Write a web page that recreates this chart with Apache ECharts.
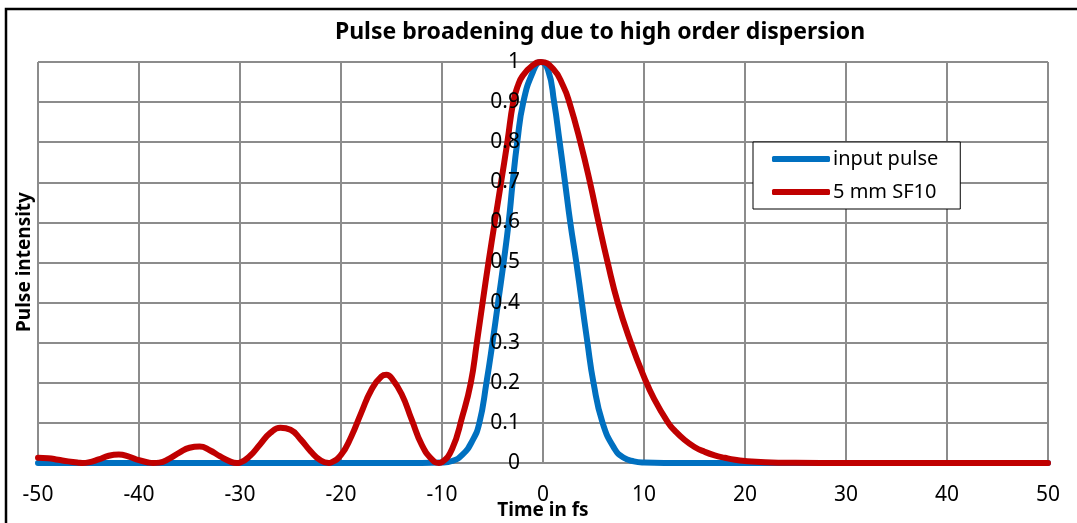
<!DOCTYPE html>
<html>
<head>
<meta charset="utf-8">
<script src="https://cdn.jsdelivr.net/npm/echarts@6/dist/echarts.min.js"></script>
<style>
  html, body { margin: 0; padding: 0; background: #fff; }
  #chart { width: 1077px; height: 523px; }
</style>
</head>
<body>
<div id="chart"></div>
<script>
// ---- data ----
const chartTitle = 'Pulse broadening due to high order dispersion';
const xAxisTitle = 'Time in fs';
const yAxisTitle = 'Pulse intensity';
const seriesNames = ['input pulse', '5 mm SF10'];

// input pulse: time (fs) and intensity
const inputTime = [-50, -12, -10, -9, -8, -7, -6.3, -5.6, -5, -4.45, -3.9, -3.4, -3, -2.55, -1.95, -1, -0.25,
  0.5, 1.1, 1.65, 2.18, 2.7, 3.3, 3.85, 4.4, 5, 5.9, 7.1, 8, 9, 10, 12, 50];
const inputPulse = [0, 0, 0.001, 0.005, 0.02, 0.055, 0.1, 0.2, 0.3, 0.4, 0.5, 0.6, 0.7, 0.8, 0.9, 0.975, 1,
  0.98, 0.9, 0.8, 0.7, 0.6, 0.5, 0.4, 0.3, 0.2, 0.1, 0.035, 0.013, 0.004, 0.001, 0, 0];

// after 5 mm SF10: time (fs) and intensity
const sf10Time = [-50, -49, -48, -47, -46, -45.6, -45, -44, -43, -42, -41, -40, -39, -38.6,
  -38, -37, -36, -35, -34, -33, -32, -31, -30.3,
  -30, -29, -28, -27, -26, -25, -24, -23, -22, -21.2,
  -21, -20, -19, -18, -17, -16, -15.5, -15, -14, -13, -12, -11, -10.3,
  -10, -9, -8, -7.15, -6.55, -5.98, -5.4, -4.78, -4.15, -3.53, -2.95, -2.5, -2, -1, -0.2,
  1, 2, 2.6, 3.7, 4.65, 5.5, 6.4, 7.4, 8.7, 10, 11, 12.4, 13, 14, 15, 16, 17, 18, 19, 20, 22, 25, 30, 50];
const sf10Pulse = [0.013, 0.012, 0.008, 0.004, 0.0008, 0, 0.0015, 0.009, 0.018, 0.021, 0.016, 0.007, 0.001, 0,
  0.001, 0.011, 0.026, 0.038, 0.041, 0.032, 0.017, 0.004, 0,
  0.001, 0.018, 0.047, 0.075, 0.088, 0.083, 0.059, 0.029, 0.006, 0,
  0.001, 0.02, 0.065, 0.125, 0.182, 0.216, 0.22, 0.212, 0.172, 0.108, 0.045, 0.009, 0,
  0.002, 0.035, 0.115, 0.2, 0.3, 0.4, 0.5, 0.6, 0.7, 0.8, 0.9, 0.94, 0.966, 0.992, 1,
  0.983, 0.94, 0.9, 0.8, 0.7, 0.6, 0.5, 0.4, 0.3, 0.215, 0.16, 0.1, 0.082, 0.058, 0.04, 0.028, 0.019, 0.013, 0.008, 0.005, 0.002, 0.0005, 0, 0];

// axis ticks
const xMin = -50, xMax = 50, xStep = 10;
const yMin = 0, yMax = 1, yStep = 0.1;

// ---- chart ----
const pairs = (xs, ys) => xs.map((x, i) => [x, ys[i]]);
const FONT = '"Noto Sans", "DejaVu Sans", sans-serif';
const GRID_COLOR = '#8c8c8c';
const GRID_LEFT = 38, GRID_RIGHT = 29, CHART_W = 1077;
// y-axis labels sit on the x = 0 line (axis crossing), as in the reference
const plotW = CHART_W - GRID_LEFT - GRID_RIGHT;
const yAxisShift = plotW * (0 - xMin) / (xMax - xMin);

const chart = echarts.init(document.getElementById('chart'), null, { renderer: 'canvas' });
chart.setOption({
  animation: false,
  backgroundColor: '#ffffff',
  title: {
    text: chartTitle,
    left: 600,
    top: 21,
    textAlign: 'center',
    padding: 0,
    textStyle: { fontFamily: FONT, fontWeight: 'bold', fontSize: 23, color: '#000' }
  },
  legend: {
    orient: 'vertical',
    left: 753,
    top: 142,
    width: 208,
    padding: [7, 22, 7, 19],
    itemGap: 13,
    itemWidth: 58,
    itemHeight: 6,
    icon: 'roundRect',
    borderColor: '#000',
    borderWidth: 1,
    backgroundColor: '#fff',
    textStyle: { fontFamily: FONT, fontSize: 20, color: '#000', padding: [0, 0, 0, -2] },
    data: seriesNames
  },
  grid: { left: GRID_LEFT, right: GRID_RIGHT, top: 62, bottom: 60, containLabel: false, outerBoundsMode: 'none' },
  xAxis: {
    type: 'value',
    min: xMin, max: xMax, interval: xStep,
    name: xAxisTitle,
    nameLocation: 'middle',
    nameGap: 38,
    nameMoveOverlap: false,
    nameTextStyle: { fontFamily: FONT, fontWeight: 'bold', fontSize: 19, color: '#000' },
    axisLine: { show: false, onZero: false },
    axisTick: { show: false },
    axisLabel: { margin: 22, fontFamily: FONT, fontSize: 21, color: '#000' },
    splitLine: { show: true, lineStyle: { color: GRID_COLOR, width: 2 } }
  },
  yAxis: [
    {
      type: 'value',
      min: yMin, max: yMax, interval: yStep,
      axisLine: { show: false, onZero: false },
      axisTick: { show: false },
      axisLabel: { show: false },
      splitLine: { show: true, lineStyle: { color: GRID_COLOR, width: 2 } },
      z: 0
    },
    {
      type: 'value',
      position: 'left',
      offset: -yAxisShift,
      min: yMin, max: yMax, interval: yStep,
      axisLine: { show: false, onZero: false },
      axisTick: { show: false },
      axisLabel: { margin: 23, fontFamily: FONT, fontSize: 21, color: '#000' },
      splitLine: { show: false },
      z: 5
    }
  ],
  graphic: [
    {
      type: 'rect',
      shape: { x: 6, y: 9, width: 1300, height: 800 },
      style: { fill: 'none', stroke: '#000', lineWidth: 2.5 },
      silent: true
    },
    {
      type: 'text',
      x: 25, y: 262,
      rotation: Math.PI / 2,
      style: {
        text: yAxisTitle,
        fontFamily: FONT, fontWeight: 'bold', fontSize: 19, fill: '#000',
        align: 'center', verticalAlign: 'middle'
      }
    }
  ],
  series: [
    {
      name: seriesNames[0],
      type: 'line',
      yAxisIndex: 0,
      data: pairs(inputTime, inputPulse),
      showSymbol: false,
      symbol: 'none',
      smooth: 0.5,
      lineStyle: { color: '#0070C0', width: 6, cap: 'round', join: 'round' },
      itemStyle: { color: '#0070C0' },
      z: 2
    },
    {
      name: seriesNames[1],
      type: 'line',
      yAxisIndex: 0,
      data: pairs(sf10Time, sf10Pulse),
      showSymbol: false,
      symbol: 'none',
      smooth: 0.5,
      lineStyle: { color: '#C00000', width: 6, cap: 'round', join: 'round' },
      itemStyle: { color: '#C00000' },
      z: 3
    }
  ]
});
</script>
</body>
</html>
